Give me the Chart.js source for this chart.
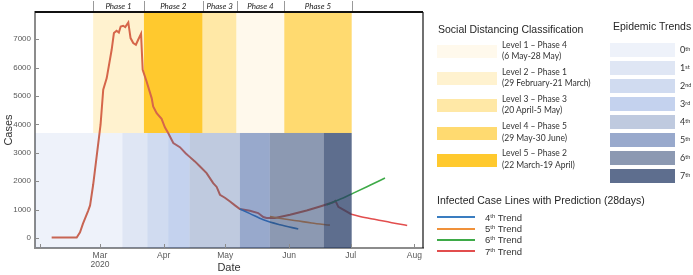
<!DOCTYPE html>
<html lang="en">
<head>
  <meta charset="UTF-8">
  <title>Infected cases, social distancing and epidemic trends</title>
  <script src="https://cdn.jsdelivr.net/npm/chart.js"></script>
  <style>
    body { margin: 0; background: #fff; }
    #wrap { position: relative; width: 693px; height: 275px; overflow: hidden; font-family: "Liberation Sans", Arial, sans-serif; }
    #chart { position: absolute; left: 0; top: 0; }
    .head { position: absolute; font-size: 10.5px; line-height: 12px; color: #262626; white-space: nowrap; }
    .sw { position: absolute; }
    .lvl { position: absolute; font-family: Lato, sans-serif; font-size: 8.5px; line-height: 11.5px; color: #333; white-space: nowrap; }
    .ord { position: absolute; font-family: Lato, sans-serif; font-size: 9px; line-height: 13px; color: #333; }
    .pred { position: absolute; font-size: 9.5px; line-height: 11px; color: #333; white-space: nowrap; }
    sup { font-size: 0.62em; line-height: 0; vertical-align: 0.45em; }
  </style>
</head>
<body>
  <div id="wrap">
    <canvas id="chart" width="693" height="275"></canvas>
  </div>
  <script>
    // x values are days since 1 January 2020
    const xTickDays = [31, 60, 91, 121, 152, 182, 213];
    const xTickLabels = ['', ['Mar', '2020'], 'Apr', 'May', 'Jun', 'Jul', 'Aug'];
    const yTicks = [0, 1000, 2000, 3000, 4000, 5000, 6000, 7000];

    // daily infected cases
    const mainDays = [36.5, 48.7, 50.3, 51.7, 54.2, 55.2, 56.7, 58.4, 60.3, 61.6, 63.3, 65.7, 66.8, 68.1, 69.2, 70.1, 71.3, 72.3, 73.8, 74.9,
      76.2, 77.5, 78.6, 80.0, 80.8, 82.7, 85.2, 85.9, 87.6, 90.0, 91.6, 93.2, 95.7, 98.9, 101.8, 103.8, 106.2, 108.7, 111.9, 115.1,
      116.8, 118.4, 120.8, 123.3, 125.7, 128.1, 133.0, 137.0, 139.5, 141.1, 145.2, 152.5, 160.6, 167.1, 173.5, 174.6, 176.0, 178.4, 182.0];
    const mainCases = [20, 20, 200, 500, 950, 1150, 1877, 2873, 3990, 5221, 5634, 6630, 7218, 7299, 7239, 7451, 7475, 7430, 7592, 7042,
      6866, 6806, 6982, 7193, 5926, 5514, 4920, 4631, 4400, 4200, 3900, 3697, 3345, 3200, 2980, 2850, 2700, 2520, 2288, 1936,
      1800, 1525, 1420, 1289, 1150, 1021, 960, 880, 739, 704, 704, 820, 972, 1113, 1260, 1310, 1100, 1000, 850];

    // 28-day predictions
    const trend4Days = [128.1, 133, 139.5, 147.6, 156.5];
    const trend4Cases = [1021, 860, 644, 468, 320];
    const trend5Days = [142.7, 149, 155.7, 163, 171.9];
    const trend5Cases = [760, 680, 610, 530, 455];
    const trend6Days = [170.3, 176, 183.3, 191.4, 198.7];
    const trend6Cases = [1172, 1340, 1583, 1860, 2112];
    const trend7Days = [181.7, 186.5, 194.7, 202, 209.5];
    const trend7Cases = [855, 760, 644, 540, 444];
    const predictionNames = ['4th Trend', '5th Trend', '6th Trend', '7th Trend'];
    const predictionColors = ['#3A7DC0', '#F0913A', '#3EAA48', '#E24E4E'];

    // social distancing phases along the time axis
    const phaseNames = ['Phase 1', 'Phase 2', 'Phase 3', 'Phase 4', 'Phase 5'];
    const phaseEdges = [56.7, 81.4, 110, 126.5, 149.7, 182.5];
    const phaseLevel = [2, 5, 3, 1, 4];
    const levelNames = ['Level 1 – Phase 4', 'Level 2 – Phase 1', 'Level 3 – Phase 3', 'Level 4 – Phase 5', 'Level 5 – Phase 2'];
    const levelDates = ['(6 May-28 May)', '(29 February-21 March)', '(20 April-5 May)', '(29 May-30 June)', '(22 March-19 April)'];
    const levelColors = ['#FFF9EC', '#FFF2CF', '#FFE8A6', '#FFDA70', '#FFC92E'];

    // epidemic trends along the time axis
    const trendNames = ['0th', '1st', '2nd', '3rd', '4th', '5th', '6th', '7th'];
    const trendEdges = [28, 71, 83.1, 93.2, 103.6, 128.1, 142.7, 168.8, 182.5];
    const trendColors = ['#EEF2FA', '#DFE6F4', '#D0DBF0', '#C4D2EE', '#BFCADF', '#98A9CC', '#8C99B2', '#5E6E8E'];
    const bandSplit = 3700; // cases value where the two band rows meet

    const pts = (xs, ys) => xs.map((d, i) => ({x: d, y: ys[i]}));

    // turn an opaque swatch colour into a see-through one that looks the same on white
    function overlay(hex) {
      const c = [1, 3, 5].map(i => parseInt(hex.substr(i, 2), 16));
      const a = Math.min(1, (255 - Math.min(...c)) / 255 / 0.85);
      if (a <= 0) return 'rgba(0,0,0,0)';
      const b = c.map(v => Math.max(0, Math.round((v - 255 * (1 - a)) / a)));
      return `rgba(${b.join(',')},${a.toFixed(3)})`;
    }

    const bands = {
      id: 'bands',
      beforeDatasetsDraw(chart) {
        const {ctx, chartArea: a, scales: {x, y}} = chart;
        const yMid = y.getPixelForValue(bandSplit);
        ctx.save();
        for (let i = 0; i < phaseNames.length; i++) {
          const x0 = x.getPixelForValue(phaseEdges[i]);
          const x1 = x.getPixelForValue(phaseEdges[i + 1]);
          ctx.fillStyle = levelColors[phaseLevel[i] - 1];
          ctx.fillRect(x0, a.top, x1 - x0, yMid - a.top);
        }
        ctx.restore();
      },
      afterDatasetsDraw(chart) {
        const {ctx, chartArea: a, scales: {x, y}} = chart;
        const yMid = y.getPixelForValue(bandSplit);
        ctx.save();
        ctx.beginPath();
        ctx.rect(a.left, a.top, a.right - a.left, a.bottom - a.top);
        ctx.clip();
        for (let i = 0; i < trendNames.length; i++) {
          const x0 = x.getPixelForValue(trendEdges[i]);
          const x1 = x.getPixelForValue(trendEdges[i + 1]);
          ctx.fillStyle = overlay(trendColors[i]);
          ctx.fillRect(x0, yMid, x1 - x0, a.bottom - yMid);
        }
        ctx.restore();

        ctx.save();
        // frame top and right
        ctx.strokeStyle = '#111';
        ctx.lineWidth = 2;
        ctx.beginPath();
        ctx.moveTo(a.left, a.top);
        ctx.lineTo(a.right, a.top);
        ctx.stroke();
        ctx.lineWidth = 1.2;
        ctx.beginPath();
        ctx.moveTo(a.right, a.top);
        ctx.lineTo(a.right, a.bottom);
        ctx.stroke();

        // inward tick marks
        ctx.strokeStyle = '#8c8c8c';
        ctx.lineWidth = 1;
        xTickDays.forEach(d => {
          const px = Math.round(x.getPixelForValue(d)) + 0.5;
          ctx.beginPath();
          ctx.moveTo(px, a.bottom - 4);
          ctx.lineTo(px, a.bottom);
          ctx.stroke();
        });
        yTicks.forEach(v => {
          const py = Math.round(y.getPixelForValue(v)) + 0.5;
          ctx.beginPath();
          ctx.moveTo(a.left - 1, py);
          ctx.lineTo(a.left + 4, py);
          ctx.stroke();
        });

        // phase header above the frame
        ctx.strokeStyle = '#9a9a9a';
        phaseEdges.forEach(d => {
          const px = Math.round(x.getPixelForValue(d)) + 0.5;
          ctx.beginPath();
          ctx.moveTo(px, 1);
          ctx.lineTo(px, a.top - 1);
          ctx.stroke();
        });
        ctx.fillStyle = '#222';
        ctx.font = 'italic 8px Lato, sans-serif';
        ctx.textAlign = 'center';
        ctx.textBaseline = 'middle';
        phaseNames.forEach((n, i) => {
          const cx = (x.getPixelForValue(phaseEdges[i]) + x.getPixelForValue(phaseEdges[i + 1])) / 2;
          ctx.fillText(n, cx, 6);
        });
        ctx.restore();
      }
    };

    const tickFamily = "'Liberation Sans Narrow', 'Liberation Sans', sans-serif";

    new Chart(document.getElementById('chart'), {
      type: 'line',
      data: {
        datasets: [
          {data: pts(trend4Days, trend4Cases), borderColor: predictionColors[0]},
          {data: pts(trend5Days, trend5Cases), borderColor: predictionColors[1]},
          {data: pts(trend6Days, trend6Cases), borderColor: predictionColors[2]},
          {data: pts(trend7Days, trend7Cases), borderColor: predictionColors[3]},
          {data: pts(mainDays, mainCases), borderColor: '#D6664A', borderWidth: 2, tension: 0, cubicInterpolationMode: 'default'}
        ]
      },
      options: {
        responsive: false,
        animation: false,
        devicePixelRatio: 1,
        layout: {padding: {left: 0, top: 12, right: 270, bottom: 0}},
        elements: {
          point: {radius: 0},
          line: {borderWidth: 1.6, tension: 0.4, cubicInterpolationMode: 'monotone', fill: false}
        },
        plugins: {legend: {display: false}, tooltip: {enabled: false}},
        scales: {
          x: {
            type: 'linear', min: 28.4, max: 217.2, z: 1,
            afterBuildTicks: s => { s.ticks = xTickDays.map(v => ({value: v})); },
            afterFit: s => { s.height = 27; },
            grid: {display: false, drawTicks: false},
            border: {display: true, color: '#8c8c8c', width: 2},
            ticks: {autoSkip: false, maxRotation: 0, padding: 3, color: '#595959',
              font: {family: tickFamily, size: 8.5, lineHeight: 1.1},
              callback: (v, i) => xTickLabels[i]},
            title: {display: true, text: 'Date', color: '#333', font: {family: "'Liberation Sans', Arial", size: 11}, padding: {top: 0, bottom: 0}}
          },
          y: {
            min: -350, max: 7960, z: 1,
            afterBuildTicks: s => { s.ticks = yTicks.map(v => ({value: v})); },
            afterFit: s => { s.width = 35; },
            grid: {display: false, drawTicks: false},
            border: {display: true, color: '#8c8c8c', width: 2},
            ticks: {padding: 4, color: '#595959', font: {family: tickFamily, size: 8}, callback: v => String(v)},
            title: {display: true, text: 'Cases', color: '#333', font: {family: "'Liberation Sans', Arial", size: 11}, padding: {top: 2, bottom: 0}}
          }
        }
      },
      plugins: [bands]
    });

    // legend panel on the right
    const wrap = document.getElementById('wrap');
    function add(cls, css, html) {
      const el = document.createElement('div');
      el.className = cls;
      Object.assign(el.style, css);
      if (html !== undefined) el.innerHTML = html;
      wrap.appendChild(el);
      return el;
    }
    const sup = s => s.replace(/^(\d)(st|nd|rd|th)/, '$1<sup>$2</sup>');

    add('head', {left: '438px', top: '22.5px'}, 'Social Distancing Classification');
    levelNames.forEach((n, i) => {
      const top = 45 + i * 27.2;
      add('sw', {left: '437px', top: top + 'px', width: '60px', height: '13px', background: levelColors[i]});
      add('lvl', {left: '502px', top: (top - 5.5) + 'px'}, n + '<br>' + levelDates[i]);
    });

    add('head', {left: '613px', top: '20px'}, 'Epidemic Trends');
    trendNames.forEach((n, i) => {
      const top = 43.3 + i * 18;
      add('sw', {left: '610px', top: top + 'px', width: '65px', height: '13.5px', background: trendColors[i]});
      add('ord', {left: '680px', top: top + 'px'}, sup(n));
    });

    add('head', {left: '437px', top: '193.5px'}, 'Infected Case Lines with Prediction (28days)');
    predictionNames.forEach((n, i) => {
      const cy = 217.3 + i * 11.33;
      add('sw', {left: '437px', top: (cy - 1) + 'px', width: '38px', height: '2px', background: predictionColors[i]});
      add('pred', {left: '485px', top: (cy - 5.5) + 'px'}, sup(n));
    });
  </script>
</body>
</html>
